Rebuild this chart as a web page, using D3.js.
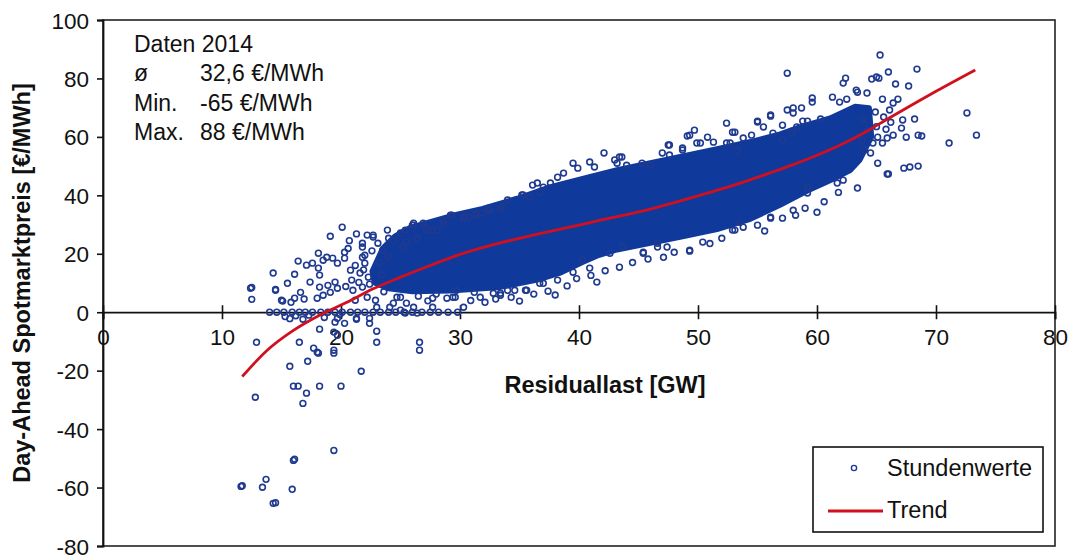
<!DOCTYPE html>
<html><head><meta charset="utf-8">
<script src="https://cdn.jsdelivr.net/npm/d3@7"></script>
<style>
html,body{margin:0;padding:0;background:#fff;}
svg text{font-family:"Liberation Sans",Arial,sans-serif;fill:#111;}
</style></head>
<body><svg id="c" width="1071" height="559"></svg>
<script>
// ---- data ----
const xTicks = [0,10,20,30,40,50,60,70,80];
const yTicks = [-80,-60,-40,-20,0,20,40,60,80,100];
const xTitle = "Residuallast [GW]";
const yTitle = "Day-Ahead Spotmarktpreis [€/MWh]";
const infoLabels = ["ø","Min.","Max."];
const infoValues = ["32,6 €/MWh","-65 €/MWh","88 €/MWh"];
const infoHeader = "Daten 2014";
const legendLabels = ["Stundenwerte","Trend"];

// dense core of the hourly cloud: upper and lower envelope [GW, €/MWh]
const coreUpper = [[22.6,14],[23.5,22],[24.5,26],[25.8,29],[27.5,31],[29.2,33],[31.9,35.5],[34.8,39],[37.6,43],[40.3,45.8],[43.2,48.8],[46.0,51.2],[48.7,53.5],[51.6,56],[54.4,58.4],[56.9,61],[58.6,63.5],[61.1,66.5],[63.2,70.5],[64.4,70]];
const coreLower = [[64.6,60],[63.6,52],[62.8,48.5],[61.1,45],[59.2,41.5],[56.9,36.6],[54.4,31.8],[51.6,28.3],[48.7,25.8],[46.0,23.6],[43.2,21.3],[41.5,19.2],[40.3,17],[38.5,13.5],[36.5,11],[33.4,8.5],[29.2,7.3],[26,7],[24,8],[22.8,10]];

// individual hourly values around the core
const hourly = [
[12.5,8.5],[12.5,4.4],[14.5,7.8],[12.9,-10.3],[12.8,-29.1],[15.7,-18.5],[16.0,-25.3],[16.4,-25.3],[17.1,-27.7],[16.8,-31.2],
[18.2,-25.3],[20.0,-25.3],[21.7,-20.2],[19.4,-47.3],[16.0,-50.7],[16.1,-50.3],[11.6,-59.6],[11.7,-59.4],[13.4,-59.9],[13.7,-57.2],
[15.9,-60.6],[14.3,-65.4],[14.5,-65.2],[16.5,-10.3],[17.2,-16.8],[17.7,-12.3],[18.0,-13.7],[18.1,-14.0],[18.2,-5.8],[19.4,-6.8],
[19.4,-13.0],[19.4,-14.0],[20.3,-3.8],[21.3,-2.4],[22.4,-3.8],[23.0,-6.5],[23.0,-10.3],[19.7,-7.9],[26.6,-10.3],[26.6,-13.0],[30.3,1.7],
[14.0,0],[14.6,0],[15.2,0],[15.9,0],[16.5,0],[17.0,0],[17.6,0],[18.3,0],[18.9,0],[19.5,0],[20.1,0],[20.8,0],[21.4,0],[22.0,0],
[22.7,0],[23.3,0],[24.0,0],[24.6,0],[25.3,0],[26.0,0],[26.8,0],[27.5,0],[28.2,0],[29.0,0],[29.8,0],[25.4,-0.3],[26.4,-0.3],
[15.3,-1.5],[15.7,-2.2],[16.2,-1.2],[16.8,-2.4],[17.3,-1.0],[18.6,-1.8],[19.9,-0.8],[19.7,-2.1],[19.5,-3.4],[21.3,-2.1],[22.4,-2.1],
[12.4,8.2],[14.3,13.4],[14.5,7.5],[15.5,9.9],[16.1,13.0],[16.4,17.5],[15.0,4.1],[15.8,3.4],[16.1,4.8],[16.6,6.8],[16.9,4.5],
[17.4,10.3],[17.1,16.1],[17.6,16.8],[18.1,15.1],[18.2,12.7],[18.1,20.2],[18.5,17.8],[18.8,18.8],[19.3,18.5],[19.7,16.8],
[19.1,26.0],[20.1,29.1],[20.3,20.5],[20.3,18.5],[18.0,4.8],[18.2,8.6],[18.5,5.8],[19.1,6.8],[18.9,9.2],[19.5,10.3],[19.7,8.2],
[20.8,14.4],[20.9,11.0],[21.0,7.5],[21.2,4.1],[21.6,13.4],[21.8,8.6],[22.2,5.1],[22.2,26.4],[22.7,25.7],[23.1,23.6],[23.5,21.2],
[23.9,28.1],[24.4,24.7],[25.0,27.1],[25.2,22.3],[26.0,29.8],[26.4,25.3],[21.8,22.3],[21.8,18.8],[22.0,16.8],[22.9,4.1],[23.0,1.7],
[24.1,1.7],[24.7,5.1],[25.5,3.1],[25.0,0.7],[22.7,26.4],[21.8,23.6],[26.1,29.8],[27.2,28.1],[25.5,24.0],[29.2,33.2],[30.3,32.5],
[31.3,33.9],[24.4,3.1],[26.1,1.7],[27.7,1.7],[29.4,5.1],[25.0,5.1],[27.7,4.8],[28.9,4.8],[15.1,3.8],
[20.6,21.8],[21.2,16.0],[21.5,10.2],[22.3,12.0],[22.0,19.5],[20.7,24.5],[21.3,26.8],[22.6,21.0],[22.4,9.6],[23.4,12.8],
[23.2,17.0],[24.0,19.0],[21.9,14.5],[20.4,8.8],[23.6,7.0],
[29.6,5.1],[29.7,7.5],[31.7,5.1],[32.8,6.5],[33.4,5.8],[34.0,7.5],[34.6,7.5],[35.5,7.5],[37.0,9.9],[38.2,11.0],
[39.5,13.7],[40.3,17.8],[40.9,15.1],[41.5,10.3],[43.4,15.4],[45.4,20.2],[47.1,18.8],[46.6,22.3],[49.3,20.9],[50.4,24.0],
[52.0,25.3],[53.1,28.1],[53.8,29.1],[35.6,7.5],[36.7,9.9],[33.4,6.5],[52.9,28.1],[55.0,29.8],[56.1,32.2],[57.1,32.2],
[58.0,34.9],[59.0,35.6],[60.0,34.2],[59.2,40.8],[59.2,42.8],[63.4,42.5],[65.1,51.0],[65.9,47.3],[61.7,44.2],[62.2,45.2],
[26.5,5.5],[27.3,3.9],[28.0,6.2],[30.9,4.0],[31.2,6.8],[32.1,3.4],[33.0,4.5],[34.3,5.1],[35.0,3.8],[36.2,6.2],[37.4,7.2],
[38.0,5.9],[39.0,9.0],[39.8,11.5],[41.0,12.6],[42.2,14.2],[44.5,17.0],[45.8,18.2],[48.0,20.5],[51.0,23.5],[55.6,27.8],
[58.2,33.2],[60.6,37.8],[61.8,41.0],
[65.3,88.0],[57.5,81.8],[68.4,83.2],[66.0,82.2],[62.4,80.1],[62.2,78.4],[64.6,79.8],[65.0,80.5],[65.2,80.1],[66.6,78.1],
[67.7,77.4],[63.3,76.0],[63.4,75.3],[64.2,75.0],[59.6,73.3],[59.6,71.9],[61.3,73.6],[61.9,71.9],[62.5,72.9],[57.5,69.2],
[58.0,69.9],[58.7,69.9],[56.1,67.1],[55.0,65.4],[59.2,65.4],[60.3,66.1],[58.8,65.4],[72.6,68.2],[73.4,60.6],[71.1,57.9],
[68.5,50.0],[67.8,49.7],[67.3,49.3],[66.0,47.3],[68.2,66.1],[67.2,65.8],[67.1,63.0],[67.5,59.9],[68.5,60.6],[68.8,60.3],
[65.5,57.9],[65.9,59.6],[66.4,60.6],[65.1,59.9],[66.8,72.9],[66.4,71.6],[66.1,69.2],[65.5,72.9],[64.5,54.5],[64.7,57.9],
[64.0,55.5],[63.8,58.9],[65.0,63.5],[65.6,66.8],[64.9,68.5],[63.9,66.0],[64.2,62.0],[65.8,62.6],[66.2,65.0],
[42.1,54.5],[43.0,52.1],[43.4,53.1],[44.0,50.3],[45.3,51.0],[46.0,50.3],[47.0,54.5],[47.6,57.2],
[47.6,53.8],[48.7,55.5],[49.1,60.3],[49.7,62.3],[50.2,57.9],[50.8,59.9],[51.3,58.2],[52.4,64.7],[52.9,61.6],[52.4,57.9],
[53.3,55.5],[53.8,59.6],[54.5,60.6],[55.0,65.1],[55.5,63.4],[56.1,67.5],[57.1,64.0],[56.3,61.3],[57.1,58.9],[58.0,68.2],
[58.3,63.4],[57.9,61.3],[56.1,32.5],[53.5,30.8],[49.3,21.2],[47.4,22.3],[46.6,23.6],[45.4,20.5],[43.7,22.3],[42.6,20.2],
[39.5,51.0],[39.9,49.3],[40.9,51.4],[41.3,49.7],[43.6,53.1],[43.2,51.0],[38.7,47.6],[38.2,46.2],[37.6,44.2],[36.5,44.2],
[36.7,41.1],[35.2,40.1],[35.9,39.4],[33.6,36.0],[34.0,38.4],[32.5,34.9],[31.9,33.9],[30.8,32.5],[30.3,32.2],[29.3,33.2],
[47.5,57.2],[48.7,56.2],[49.3,60.6],[49.9,57.9],[52.7,57.9],[53.1,61.6],
[28.6,30.5],[27.7,28.1],[26.9,30.5],[26.1,30.5],[25.4,28.1],[30.4,33.2],[31.4,33.9],[32.4,35.6],[35.3,40.1],[36.1,43.5],
[37.0,42.8],[24.0,25.3],[27.1,29.1],[28.1,28.1],[28.6,31.5],[33.4,35.6],[31.4,33.2],[32.4,34.9]
];

// trend curve
const trend = [[11.7,-22],[13.8,-13],[16,-6.2],[18.2,-1],[20.5,3.4],[22.7,8],[25,12],[27.5,16],[30,19.8],[32.5,22.8],[35,25.3],[37.5,27.6],[40,29.8],[42,31.7],[44,33.4],[46,35.3],[48,37.5],[50,39.8],[52,42.2],[54,44.8],[56,47.6],[58,50.5],[60,53.7],[62,57.3],[64,61.5],[66,66.3],[68,71],[70,75.6],[73.3,82.9]];

// ---- drawing ----
const svg = d3.select("#c");
const L = 103, R = 1055, T = 20, B = 546;
const x = d3.scaleLinear().domain([0,80]).range([L,R]);
const y = d3.scaleLinear().domain([-80,100]).range([B,T]);
const dotColor = "#1f3a90", coreColor = "#0f3a9c", red = "#d0101e";
const fmt = d => String(d);

// frame
svg.append("rect").attr("x",L).attr("y",T).attr("width",R-L).attr("height",B-T)
  .attr("fill","none").attr("stroke","#222").attr("stroke-width",1.6);

// y axis
const yAxis = d3.axisLeft(y).tickValues(yTicks).tickSize(6).tickPadding(8).tickFormat(fmt);
const gy = svg.append("g").attr("transform",`translate(${L},0)`).call(yAxis);
gy.select(".domain").attr("stroke","#111").attr("stroke-width",1.8);
gy.selectAll(".tick line").attr("stroke","#111").attr("stroke-width",1.6);
gy.selectAll(".tick text").attr("font-size",22.5).attr("fill","#111").attr("dy","0.36em")
  .style("font-family","'Liberation Sans',Arial,sans-serif");

// x axis along y = 0
const xAxis = d3.axisBottom(x).tickValues(xTicks).tickSize(7).tickPadding(15).tickFormat(fmt);
const gx = svg.append("g").attr("transform",`translate(0,${y(0)})`).call(xAxis);
gx.select(".domain").attr("stroke","#111").attr("stroke-width",1.8);
gx.selectAll(".tick line").attr("y1",-7).attr("stroke","#111").attr("stroke-width",1.6);
gx.selectAll(".tick text").attr("font-size",22.5).attr("fill","#111").attr("dy","0.5em")
  .style("font-family","'Liberation Sans',Arial,sans-serif");

// dense core
const corePoly = coreUpper.concat(coreLower);
svg.append("path").datum(corePoly)
  .attr("d", d3.line().x(d=>x(d[0])).y(d=>y(d[1])).curve(d3.curveLinearClosed))
  .attr("fill",coreColor).attr("stroke",coreColor).attr("stroke-width",5).attr("stroke-linejoin","round");

// hourly points
svg.append("g").selectAll("circle").data(hourly).join("circle")
  .attr("cx",d=>x(d[0])).attr("cy",d=>y(d[1])).attr("r",2.9)
  .attr("fill","none").attr("stroke",dotColor).attr("stroke-width",1.6);

// trend
svg.append("path").datum(trend)
  .attr("d", d3.line().x(d=>x(d[0])).y(d=>y(d[1])).curve(d3.curveMonotoneX))
  .attr("fill","none").attr("stroke",red).attr("stroke-width",2.8);

// info text
const info = svg.append("g").attr("font-size",23);
info.append("text").attr("x",134).attr("y",52).text(infoHeader);
infoLabels.forEach((t,i)=>{
  info.append("text").attr("x",134).attr("y",81+i*29.5).text(t);
  info.append("text").attr("x",200).attr("y",81+i*29.5).text(infoValues[i]);
});

// titles
svg.append("text").attr("x",605).attr("y",393).attr("text-anchor","middle")
  .attr("font-size",23.5).attr("font-weight","bold").text(xTitle);
svg.append("text").attr("transform","translate(30,283) rotate(-90)").attr("text-anchor","middle")
  .attr("font-size",23.5).attr("font-weight","bold").text(yTitle);

// legend
const lg = svg.append("g");
lg.append("rect").attr("x",813).attr("y",447).attr("width",230).attr("height",85)
  .attr("fill","#fff").attr("stroke","#111").attr("stroke-width",1.6);
lg.append("circle").attr("cx",854).attr("cy",468).attr("r",2.6)
  .attr("fill","none").attr("stroke",dotColor).attr("stroke-width",1.4);
lg.append("text").attr("x",887).attr("y",476).attr("font-size",23.5).text(legendLabels[0]);
lg.append("line").attr("x1",828).attr("x2",883).attr("y1",511).attr("y2",511)
  .attr("stroke",red).attr("stroke-width",2.8);
lg.append("text").attr("x",887).attr("y",518).attr("font-size",23.5).text(legendLabels[1]);
</script></body></html>
